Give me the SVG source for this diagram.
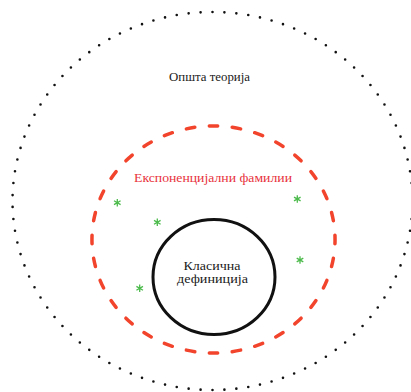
<svg xmlns="http://www.w3.org/2000/svg" xmlns:xlink="http://www.w3.org/1999/xlink" width="411" height="392" viewBox="0 0 411 392">
  <style>
    .lbl { font-family: "Liberation Serif", "DejaVu Serif", serif; font-size: 13.5px; text-anchor: middle; fill: #1a1a1a; }
    .small { font-size: 12.5px; }
    .red { fill: #e8323c; }
    .dotted { fill: none; stroke: #111111; stroke-width: 2.6; stroke-linecap: round; stroke-dasharray: 0 12; }
    .dashed { fill: none; stroke: #f2442c; stroke-width: 3.5; stroke-linecap: round; stroke-dasharray: 8.5 14.5; stroke-dashoffset: 4.25; }
    .solid { fill: none; stroke: #111111; stroke-width: 3; }
    .star { fill: none; stroke: #4cbb4c; stroke-width: 1.3; }
  </style>
  <defs>
    <g id="ast">
      <path class="star" d="M0,-3.8 V3.8 M-3.3,-1.9 L3.3,1.9 M-3.3,1.9 L3.3,-1.9"/>
    </g>
  </defs>
  <rect width="411" height="392" fill="#ffffff"/>
  <g id="general-theory">
    <path class="dotted" pathLength="1224" d="M212.5,12 A200,189 0 1,1 212.5,390 A200,189 0 1,1 212.5,12 Z"/>
    <text class="lbl" x="209.5" y="81" textLength="81" lengthAdjust="spacingAndGlyphs">Општа теорија</text>
  </g>
  <g id="exponential-families">
    <path class="dashed" pathLength="736" d="M213.5,126 A121.5,113.5 0 1,1 213.5,353 A121.5,113.5 0 1,1 213.5,126 Z"/>
    <text class="lbl red" x="213" y="182" textLength="158" lengthAdjust="spacingAndGlyphs">Експоненцијални фамилии</text>
  </g>
  <g id="points">
    <use xlink:href="#ast" x="117.3" y="202.7"/>
    <use xlink:href="#ast" x="157.3" y="222.3"/>
    <use xlink:href="#ast" x="297.3" y="199"/>
    <use xlink:href="#ast" x="300" y="260"/>
    <use xlink:href="#ast" x="139.7" y="288.3"/>
  </g>
  <g id="classical-definition">
    <ellipse class="solid" cx="214" cy="277" rx="61" ry="57.5"/>
    <text class="lbl small" x="212" y="269.5" textLength="57" lengthAdjust="spacingAndGlyphs">Класична</text>
    <text class="lbl small" x="212.5" y="282.5" textLength="71" lengthAdjust="spacingAndGlyphs">дефиниција</text>
  </g>
  <g id="connectors"/>
</svg>
